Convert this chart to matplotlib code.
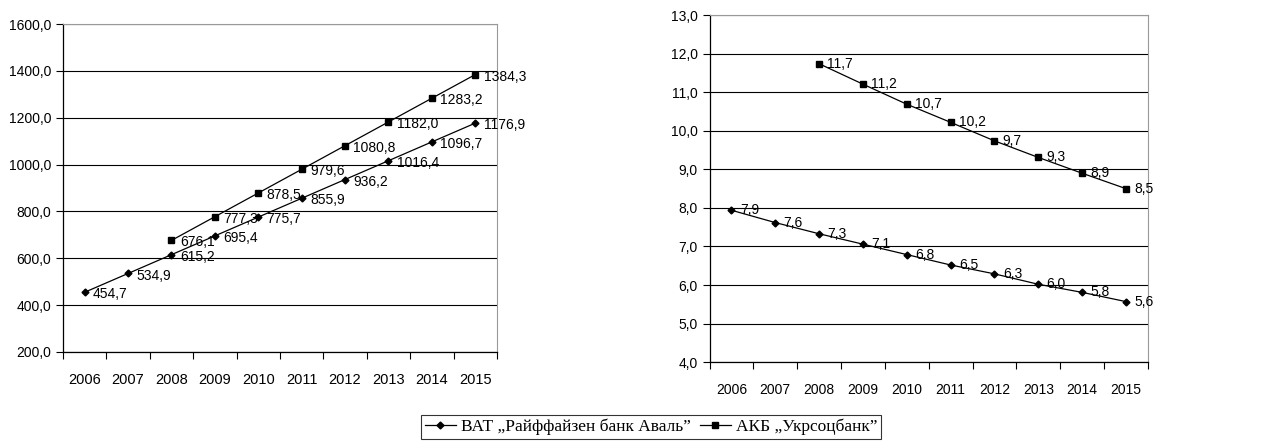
import numpy as np
import matplotlib.pyplot as plt
import matplotlib.ticker as mtick

# DATA
years = ["2006", "2007", "2008", "2009", "2010", "2011", "2012", "2013", "2014", "2015"]
aval_left = [454.7, 534.9, 615.2, 695.4, 775.7, 855.9, 936.2, 1016.4, 1096.7, 1176.9]
ukr_left = [676.1, 777.3, 878.5, 979.6, 1080.8, 1182.0, 1283.2, 1384.3]
aval_right = [7.94, 7.62, 7.33, 7.06, 6.79, 6.52, 6.29, 6.02, 5.81, 5.57]
ukr_right = [11.74, 11.21, 10.69, 10.22, 9.74, 9.31, 8.90, 8.50]
names = ["ВАТ „Райффайзен банк Аваль”", "АКБ „Укрсоцбанк”"]

plt.rcParams['font.family'] = ['Liberation Sans', 'DejaVu Sans']

fig = plt.figure(figsize=(12.67, 4.46), dpi=100)
ax1 = fig.add_axes([0.0497, 0.211, 0.3425, 0.735])
ax2 = fig.add_axes([0.560, 0.188, 0.346, 0.778])

x_all = np.arange(len(years))
x_ukr = x_all[2:]


def comma(v, pos=None):
    return ('%.1f' % v).replace('.', ',')


def style(ax, ymin, ymax, step, xfs, xpad):
    ax.set_xlim(-0.5, len(years) - 0.5)
    ax.set_ylim(ymin, ymax)
    ax.set_yticks(np.arange(ymin, ymax + step / 2, step))
    ax.yaxis.set_major_formatter(mtick.FuncFormatter(comma))
    ax.grid(axis='y', color='black', linewidth=0.8)
    ax.set_axisbelow(True)
    ax.set_xticks(np.arange(-0.5, len(years), 1.0))
    ax.set_xticklabels([])
    ax.set_xticks(x_all, minor=True)
    ax.set_xticklabels(years, minor=True, fontsize=xfs)
    ax.tick_params(axis='x', which='major', length=5, direction='out', width=0.8)
    ax.tick_params(axis='x', which='minor', length=0, pad=xpad)
    ax.tick_params(axis='y', length=5, direction='out', width=0.8, labelsize=10)
    for s in ['left', 'bottom']:
        ax.spines[s].set_color('black')
        ax.spines[s].set_linewidth(0.9)
    for s in ['top', 'right']:
        ax.spines[s].set_color('#999999')
        ax.spines[s].set_linewidth(0.8)


def draw(ax, xs, ys, marker, ms, label, dy):
    ax.plot(xs, ys, color='black', linewidth=0.9, marker=marker,
            markersize=ms, markerfacecolor='black', label=label, zorder=3)
    for xv, yv in zip(xs, ys):
        ax.annotate(comma(yv), (xv, yv), xytext=(6, dy), textcoords='offset points',
                    ha='left', va='center', fontsize=10)


draw(ax1, x_all, aval_left, 'D', 3.5, names[0], -1.5)
draw(ax1, x_ukr, ukr_left, 's', 4.5, names[1], -1.5)
style(ax1, 200, 1600, 200, 10.5, 15)

draw(ax2, x_all, aval_right, 'D', 3.5, names[0], 0)
draw(ax2, x_ukr, ukr_right, 's', 4.5, names[1], 0)
style(ax2, 4, 13, 1, 10, 15)

h, l = ax1.get_legend_handles_labels()
leg = fig.legend(h, l, loc='center', bbox_to_anchor=(0.514, 0.043), ncol=2,
                 prop={'family': 'Liberation Serif', 'size': 12.5},
                 frameon=True, fancybox=False, edgecolor='black',
                 handlelength=1.8, handletextpad=0.3, columnspacing=0.5,
                 borderpad=0.2, borderaxespad=0)
leg.get_frame().set_linewidth(0.8)

plt.savefig('out.png', dpi=100)
